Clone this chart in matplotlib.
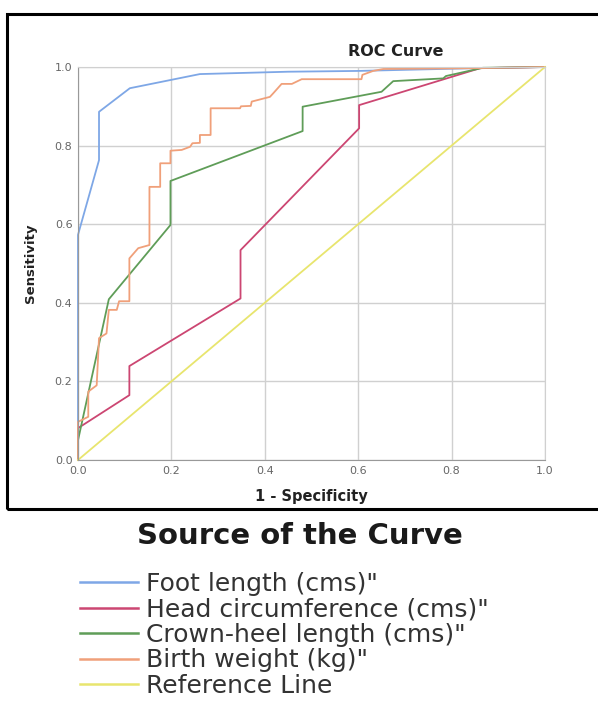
import matplotlib.pyplot as plt
from matplotlib.lines import Line2D
from matplotlib.patches import Rectangle

# ROC curve data (1 - specificity, sensitivity)
foot_x = [0.0, 0.0, 0.045, 0.045, 0.111, 0.261, 0.45, 0.6, 0.85, 1.0]
foot_y = [0.0, 0.573, 0.763, 0.886, 0.946, 0.982, 0.988, 0.99, 0.997, 1.0]

head_x = [0.0, 0.0, 0.11, 0.11, 0.348, 0.348, 0.602, 0.602, 0.861, 1.0]
head_y = [0.0, 0.081, 0.165, 0.239, 0.411, 0.534, 0.844, 0.903, 0.997, 1.0]

crown_x = [0.0, 0.0, 0.066, 0.198, 0.198, 0.481, 0.481, 0.650, 0.675, 0.782, 0.788, 0.867, 1.0]
crown_y = [0.0, 0.05, 0.409, 0.598, 0.71, 0.837, 0.899, 0.937, 0.964, 0.971, 0.977, 0.998, 1.0]

birth_x = [0.0, 0.0, 0.022, 0.022, 0.04, 0.045, 0.061, 0.066, 0.083, 0.088, 0.11, 0.11,
           0.129, 0.153, 0.153, 0.176, 0.176, 0.198, 0.198, 0.222, 0.24, 0.245, 0.261,
           0.261, 0.284, 0.284, 0.347, 0.349, 0.37, 0.372, 0.411, 0.418, 0.436, 0.458,
           0.479, 0.607, 0.609, 0.632, 0.654, 0.846, 1.0]
birth_y = [0.0, 0.097, 0.11, 0.174, 0.19, 0.31, 0.322, 0.382, 0.382, 0.404, 0.404, 0.513,
           0.539, 0.547, 0.695, 0.695, 0.755, 0.755, 0.787, 0.789, 0.797, 0.806, 0.807,
           0.827, 0.827, 0.895, 0.895, 0.90, 0.901, 0.912, 0.924, 0.933, 0.957, 0.957,
           0.969, 0.969, 0.98, 0.99, 0.995, 0.997, 1.0]

ref_x = [0.0, 1.0]
ref_y = [0.0, 1.0]

labels = ['Foot length (cms)"', 'Head circumference (cms)"',
          'Crown-heel length (cms)"', 'Birth weight (kg)"', 'Reference Line']
colors = ['#7ea7e6', '#cc4672', '#5f9d58', '#f0a07a', '#e8e56e']
ticks = [0.0, 0.2, 0.4, 0.6, 0.8, 1.0]

plt.rcParams['font.family'] = ['DejaVu Sans']

W, H = 598, 716
fig = plt.figure(figsize=(W / 100, H / 100), dpi=100)

# black frame round the chart area
fig.patches.append(Rectangle((7 / W, 1 - 509 / H), 600 / W, 495 / H,
                             transform=fig.transFigure, fill=False,
                             edgecolor='black', linewidth=2.2))

ax = fig.add_axes([78 / W, 1 - 460 / H, 467 / W, 393 / H])

series = [(foot_x, foot_y), (head_x, head_y), (crown_x, crown_y),
          (birth_x, birth_y), (ref_x, ref_y)]
for (xs, ys), c in zip(series, colors):
    ax.plot(xs, ys, color=c, linewidth=1.3, clip_on=False)

ax.set_xlim(0, 1)
ax.set_ylim(0, 1)
ax.set_xticks(ticks)
ax.set_yticks(ticks)
ax.set_xticklabels([f'{t:.1f}' for t in ticks])
ax.set_yticklabels([f'{t:.1f}' for t in ticks])
ax.tick_params(length=0, labelsize=8, labelcolor='#666666', pad=4)
ax.grid(True, color='#d0d0d0', linewidth=1.0)
ax.set_axisbelow(True)
for side in ['left', 'bottom']:
    ax.spines[side].set_color('#999999')
for side in ['top', 'right']:
    ax.spines[side].set_color('#d0d0d0')

fig.text(396 / W, 1 - 52 / H, 'ROC Curve', ha='center', va='center',
         fontsize=11.5, fontweight='bold', color='#222222')
fig.text(30 / W, 1 - 263 / H, 'Sensitivity', ha='center', va='center',
         rotation=90, fontsize=9.5, fontweight='bold', color='#222222')
fig.text(311 / W, 1 - 497 / H, '1 - Specificity', ha='center', va='center',
         fontsize=10.5, fontweight='bold', color='#222222')

# legend below the frame
fig.text(300 / W, 1 - 536 / H, 'Source of the Curve', ha='center', va='center',
         fontsize=21, fontweight='bold', color='#1a1a1a')
handles = [Line2D([0], [0], color=c, linewidth=1.8) for c in colors]
fig.legend(handles, labels, loc='upper left', bbox_to_anchor=(80 / W, 1 - 572 / H),
           frameon=False, fontsize=18, handlelength=2.3, handletextpad=0.36,
           labelspacing=0.06, borderpad=0, borderaxespad=0, labelcolor='#333333')

fig.savefig('out.png', dpi=100)
